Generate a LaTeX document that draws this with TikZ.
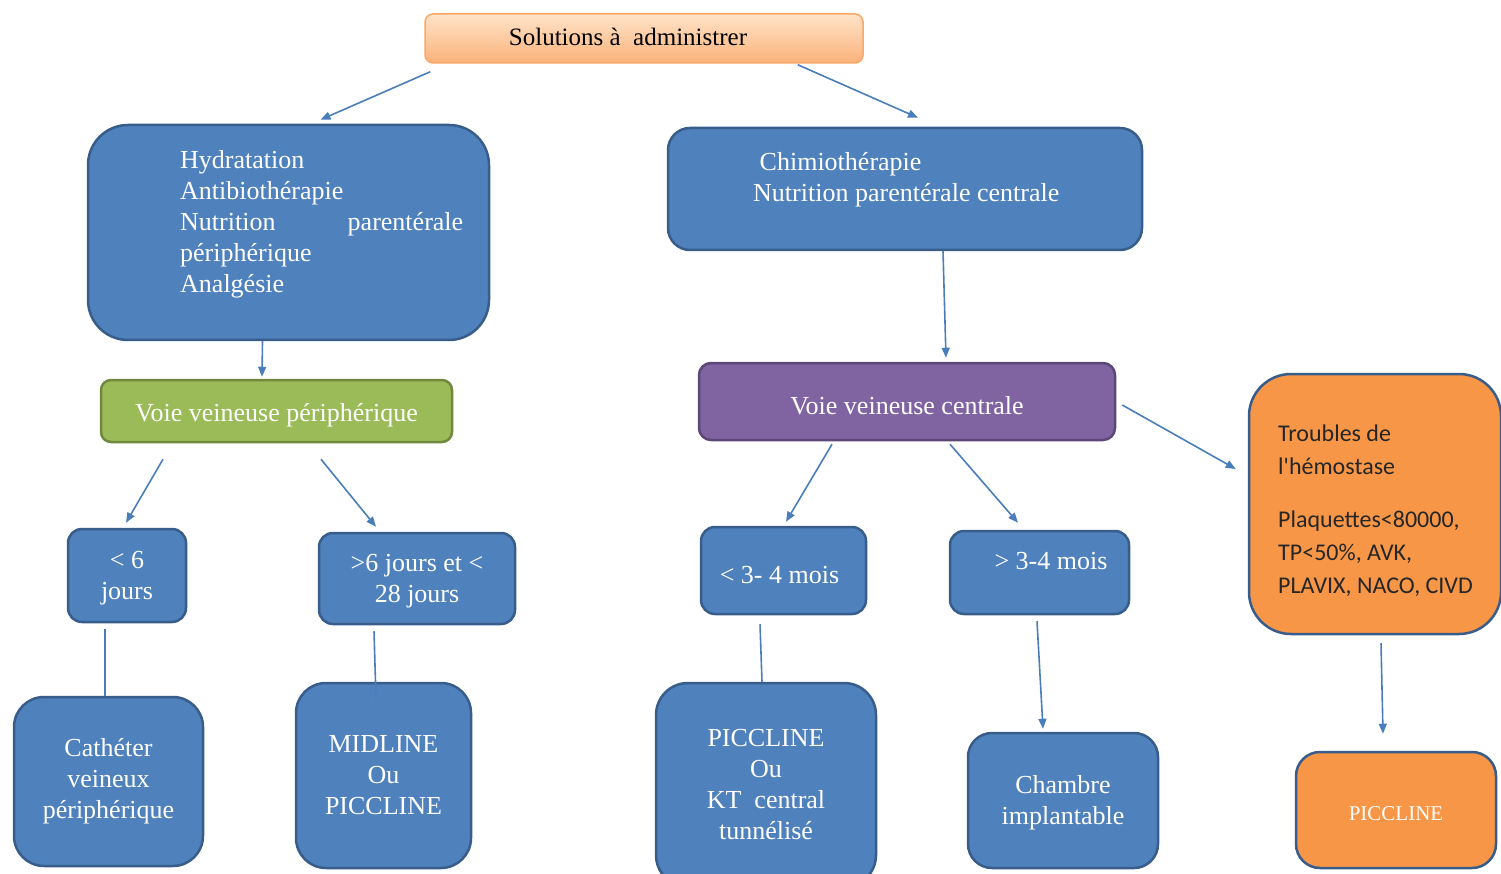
\documentclass[tikz,border=0pt]{standalone}
\usepackage{fontspec}
\setmainfont{Liberation Serif}
\newfontfamily\calib{Carlito}
\usetikzlibrary{arrows.meta,calc}
\definecolor{bfill}{HTML}{4F81BD}
\definecolor{bdraw}{HTML}{385D8A}
\definecolor{gfill}{HTML}{9BBB59}
\definecolor{gdraw}{HTML}{71893F}
\definecolor{pfill}{HTML}{8064A2}
\definecolor{pdraw}{HTML}{5C4776}
\definecolor{ofill}{HTML}{F79646}
\definecolor{otop}{HTML}{FFE3C8}
\definecolor{obot}{HTML}{FAB27A}
\definecolor{oline}{HTML}{F8A867}
\definecolor{arrc}{HTML}{4A7EBB}
\newcommand\upstrut{\rule{0pt}{0.9em}}
\tikzset{
  box/.style={rectangle, rounded corners=#1, line width=2.5pt, inner sep=0pt, text=white, align=center,
    font=\fontsize{26}{31}\selectfont, execute at begin node={\rule{0pt}{1em}}},
  bluebox/.style={box=#1, fill=bfill, draw=bdraw},
  greenbox/.style={box=#1, fill=gfill, draw=gdraw},
  purplebox/.style={box=#1, fill=pfill, draw=pdraw},
  orangebox/.style={box=#1, fill=ofill, draw=bdraw},
  topbox/.style={rectangle, rounded corners=8pt, line width=1.5pt, draw=oline, top color=otop, bottom color=obot,
    inner sep=0pt, font=\fontsize{25}{31}\selectfont},
  lbl/.style={inner sep=0pt, text=white, font=\fontsize{26}{31}\selectfont},
  arr/.style={draw=arrc, line width=1.6pt, -{Triangle[length=10pt,width=8pt]}},
  plain/.style={draw=arrc, line width=1.6pt},
}
\begin{document}
\begin{tikzpicture}[x=1pt,y=-1pt]
\useasboundingbox (0,0) rectangle (1501,874);
% boxes
\node[topbox, minimum width=438pt, minimum height=49pt] (top) at (644,38.5) {};
\node[inner sep=0pt, font=\fontsize{25}{31}\selectfont] (topt) at (628,37) {Solutions à \ administrer};

\node[bluebox=40pt, minimum width=401pt, minimum height=215pt] (hyd) at (288.5,232.5) {};
\node[lbl, anchor=north west, text width=283pt, align=left] (hydt) at (180,150)
  {Hydratation\\Antibiothérapie\\Nutrition\hfill parentérale\\périphérique\\Analgésie};

\node[bluebox=22pt, minimum width=474pt, minimum height=122pt] (chi) at (905,189) {};
\node[lbl, anchor=north west, align=left] (chit) at (753,152)
  {\ Chimiothérapie\\Nutrition parentérale centrale};

\node[greenbox=10pt, minimum width=351pt, minimum height=62pt] (vvp) at (276.5,411) {Voie veineuse périphérique};
\node[purplebox=12pt, minimum width=416pt, minimum height=77pt] (vvc) at (907,401.5) {Voie veineuse centrale};

\node[orangebox=42pt, minimum width=252pt, minimum height=260pt] (tro) at (1375,504) {};
\node[inner sep=0pt, anchor=north west, align=left, text=black!85, font=\calib\fontsize{24}{33}\selectfont] (trot) at (1278,425)
  {Troubles de\\l'hémostase\\[20pt]Plaquettes<80000,\\TP<50\%, AVK,\\PLAVIX, NACO, CIVD};

\node[bluebox=14pt, minimum width=118pt, minimum height=93pt] (lt6) at (127,575.5) {\upstrut< 6\\jours};
\node[bluebox=14pt, minimum width=196pt, minimum height=91pt] (gt6) at (417,578.5) {\upstrut>6 jours et <\\28 jours};
\node[bluebox=14pt, minimum width=165pt, minimum height=87pt] (lt34) at (783.5,570.5) {\hspace*{-8pt}< 3- 4 mois};
\node[bluebox=14pt, minimum width=179pt, minimum height=83pt] (gt34) at (1039.5,572.5) {};
\node[lbl] (gt34t) at (1051,561) {> 3-4 mois};

\node[bluebox=30pt, minimum width=189pt, minimum height=169pt] (cat) at (108.5,781.5) {Cathéter\\veineux\\périphérique};
\node[bluebox=30pt, minimum width=175pt, minimum height=185pt] (mid) at (383.5,775.5) {MIDLINE\\Ou\\PICCLINE};
\node[bluebox=32pt, minimum width=220pt, minimum height=204pt] (pkt) at (766,785) {PICCLINE\\Ou\\KT\ \ central\\tunnélisé};
\node[bluebox=24pt, minimum width=190pt, minimum height=135pt] (cha) at (1063,800.5) {\upstrut Chambre\\implantable};
\node[orangebox=24pt, minimum width=200pt, minimum height=116pt, font=\fontsize{21}{26}\selectfont] (pic) at (1396,810) {PICCLINE};

% connectors
\draw[arr] ($(top.south west)+(6,8)$) -- ($(hyd.north)+(32,-4)$);
\draw[arr] ($(top.south east)+(-66,1)$) -- ($(chi.north)+(13,-9)$);
\draw[arr] ($(hyd.south)+(-26,0)$) -- ($(vvp.north)+(-14.5,-2)$);
\draw[arr] ($(chi.south)+(38,0)$) -- ($(vvc.north)+(39,-4)$);
\draw[arr] ($(vvp.south)+(-113.5,16)$) -- ($(lt6.north)+(-1,-5)$);
\draw[arr] ($(vvp.south)+(44.5,16)$) -- ($(gt6.north)+(-41,-5)$);
\draw[arr] ($(vvc.south)+(-75,3)$) -- ($(lt34.north)+(2.5,-4)$);
\draw[arr] ($(vvc.south)+(43,3)$) -- ($(gt34.north)+(-21.5,-7)$);
\draw[arr] ($(vvc.east)+(6,3.5)$) -- ($(tro.west)+(-12,-35)$);
\draw[plain] ($(lt6.south)+(-22,6)$) -- ($(cat.north)+(-3.5,0)$);
\draw[plain] ($(gt6.south)+(-43,6)$) -- ($(mid.north)+(-7.5,17)$);
\draw[plain] ($(lt34.south)+(-23.5,9)$) -- ($(pkt.north)+(-4,0)$);
\draw[arr] ($(gt34.south)+(-2.5,6)$) -- ($(cha.north)+(-20,-3)$);
\draw[arr] ($(tro.south)+(6,8)$) -- ($(pic.north)+(-13,-17)$);
\end{tikzpicture}
\end{document}
